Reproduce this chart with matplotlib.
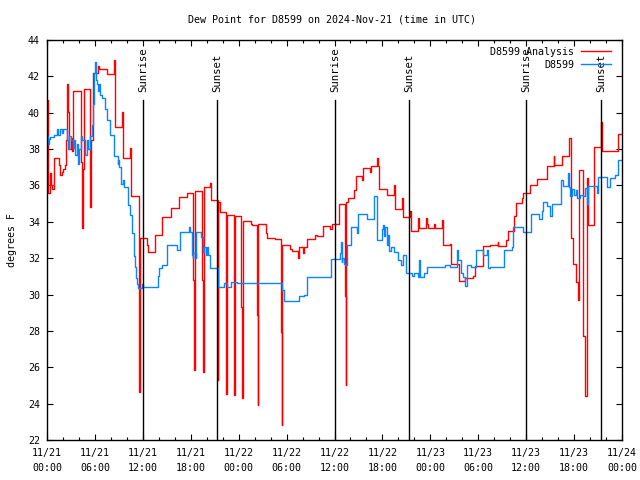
import matplotlib
matplotlib.use("Agg")
import matplotlib.pyplot as plt
from matplotlib.ticker import MultipleLocator, FixedLocator

# hours since 2024-11-21 00:00 UTC
analysis_hours = [0.00, 0.08, 0.13, 0.38, 0.50, 0.63, 0.91, 1.50, 1.63, 1.84, 2.04, 2.25, 2.38, 2.50, 2.67,
                  2.75, 3.01, 3.13, 3.29, 4.22, 4.42, 4.51, 4.67, 5.38, 5.47, 5.72, 6.42, 6.51, 7.51, 8.39,
                  8.51, 9.35, 9.45, 9.52, 10.39, 10.52, 11.47, 11.60, 12.48, 12.61, 13.48, 14.46, 15.48,
                  16.52, 17.49, 18.34, 18.41, 18.47, 19.47, 19.52, 19.60, 20.47, 20.54, 21.35, 21.45, 21.66,
                  22.38, 22.41, 22.49, 23.38, 23.45, 23.52, 24.33, 24.46, 24.52, 25.54, 25.67, 26.33, 26.38,
                  26.46, 27.42, 27.59, 28.55, 29.34, 29.39, 29.46, 30.39, 30.72, 31.47, 31.56, 32.06, 32.18,
                  32.59, 33.56, 33.77, 34.60, 35.44, 35.65, 36.60, 37.35, 37.40, 37.48, 37.65, 38.48, 38.66,
                  39.48, 39.61, 40.45, 40.57, 41.36, 41.48, 41.57, 42.54, 43.49, 43.58, 44.45, 44.61, 45.45,
                  45.58, 46.42, 46.52, 47.42, 47.52, 47.71, 48.46, 48.59, 49.42, 49.53, 50.46, 50.55, 51.59,
                  52.34, 53.38, 53.59, 54.56, 55.47, 56.44, 56.51, 57.48, 57.69, 58.48, 58.69, 59.44, 59.64,
                  60.54, 61.32, 62.55, 63.46, 63.53, 64.53, 65.36, 65.58, 65.90, 66.20, 66.45, 66.62, 67.16,
                  67.37, 67.58, 67.78, 68.53, 69.41, 69.47, 71.54, 72.00]
analysis_vals = [40.7, 37.0, 35.6, 36.7, 36.0, 35.8, 37.5, 37.1, 36.55, 36.75, 36.9, 37.1, 38.5, 41.6, 40.05,
                 38.0, 38.6, 37.9, 41.2, 37.3, 33.65, 36.9, 41.3, 34.8, 38.5, 42.2, 42.55, 42.4, 42.15, 42.9,
                 39.2, 39.5, 40.05, 37.5, 38.05, 35.4, 24.65, 33.1, 32.7, 32.35, 33.3, 34.25, 34.75,
                 35.35, 35.6, 30.8, 25.85, 35.7, 30.8, 25.75, 35.9, 36.15, 35.2, 25.3, 35.1, 34.55,
                 30.0, 24.55, 34.4, 29.4, 24.45, 34.3, 29.3, 24.3, 34.05, 33.9, 33.8, 28.9, 23.9,
                 33.9, 33.4, 33.1, 33.05, 27.95, 22.8, 32.75, 32.5, 32.4, 32.0, 32.6, 32.3, 32.6,
                 33.05, 33.3, 33.2, 33.75, 33.6, 33.9, 35.0, 29.9, 25.0, 35.1, 35.3, 35.75, 36.5,
                 36.3, 36.95, 36.75, 37.05, 37.5, 37.05, 35.8, 35.5, 36.0, 34.7, 35.3, 34.25, 34.6,
                 33.5, 34.2, 33.65, 34.2, 33.9, 33.65, 33.9, 33.65, 34.1, 32.7, 32.8, 31.7, 30.75,
                 30.9, 31.0, 31.55, 32.65, 32.7, 32.9, 32.65, 33.0, 33.5, 34.3, 35.05, 35.3, 35.6,
                 36.0, 36.35, 37.05, 37.6, 37.1, 37.6, 38.6, 33.1, 31.7, 30.7, 29.7, 36.85, 27.7,
                 24.4, 36.4, 33.85, 38.1, 39.5, 37.9, 38.85, 38.85]

obs_hours = [0.00, 0.13, 0.25, 0.38, 0.91, 1.21, 1.42, 1.63, 1.84, 1.97, 2.47, 2.67, 2.75, 3.01, 3.29, 3.33,
             3.51, 3.72, 3.92, 3.96, 4.26, 4.42, 4.76, 4.97, 5.17, 5.38, 5.63, 5.72, 5.89, 6.01, 6.14, 6.26,
             6.39, 6.51, 6.64, 6.89, 7.26, 7.51, 7.89, 8.39, 8.85, 8.95, 9.02, 9.27, 9.52, 9.68, 10.14,
             10.39, 10.68, 10.89, 11.02, 11.11, 11.21, 11.36, 11.86, 11.96, 13.86, 13.99, 14.36, 14.99,
             16.24, 16.65, 17.84, 17.91, 18.12, 18.22, 18.34, 18.62, 18.66, 19.28, 19.50, 19.72, 19.85,
             20.04, 20.16, 20.45, 21.38, 22.20, 22.50, 23.00, 23.75, 29.39, 29.71, 31.56, 32.22, 32.52,
             32.59, 35.52, 36.69, 36.78, 36.88, 37.00, 37.13, 37.32, 37.53, 38.07, 38.82, 38.98, 40.10,
             40.94, 41.36, 41.91, 42.08, 42.20, 42.32, 42.54, 42.70, 42.83, 43.08, 43.45, 43.99, 44.33,
             44.61, 44.91, 45.66, 45.96, 46.49, 46.62, 46.68, 47.21, 47.62, 49.84, 50.46, 51.30, 51.50,
             51.80, 52.13, 52.34, 52.63, 53.05, 53.68, 54.56, 55.06, 55.26, 55.47, 57.23, 58.19, 58.39,
             59.64, 60.57, 61.65, 62.02, 62.15, 62.57, 62.99, 63.28, 64.33, 64.66, 65.28, 65.36, 65.49,
             65.74, 65.99, 66.24, 66.37, 66.74, 67.12, 67.37, 67.62, 67.78, 68.87, 69.04, 70.08, 70.50,
             71.13, 71.54, 72.00]
obs_vals = [38.7, 38.3, 38.55, 38.65, 38.8, 39.1, 38.8, 39.1, 38.9, 39.1, 38.5, 38.0, 38.7, 38.5, 38.05, 38.5,
            37.65, 38.3, 37.2, 38.0, 38.7, 38.5, 37.65, 38.5, 38.0, 38.7, 39.3, 40.5, 42.2, 42.8, 41.8, 41.6,
            41.2, 41.6, 41.0, 40.8, 40.2, 39.6, 38.8, 37.6, 37.2, 37.4, 37.0, 36.1, 36.3, 35.9, 34.9,
            34.4, 33.4, 32.1, 31.5, 30.9, 30.6, 30.35, 30.6, 30.4, 31.0, 31.45, 31.65, 32.7,
            32.45, 33.45, 33.7, 33.45, 32.2, 32.0, 32.3, 32.0, 33.45, 33.15, 32.35, 32.6, 32.2,
            32.6, 32.2, 31.45, 30.4, 30.65, 30.4, 30.7, 30.65, 30.25, 29.65, 29.9, 30.0, 30.45,
            30.95, 31.95, 32.3, 32.9, 31.8, 32.0, 31.7, 31.6, 32.7, 33.7, 33.4, 34.45, 34.15,
            35.4, 33.0, 33.6, 33.8, 33.2, 33.7, 32.7, 33.3, 32.4, 32.6, 32.35, 31.9, 31.6,
            32.15, 31.2, 31.0, 31.2, 30.95, 31.9, 30.95, 31.2, 31.5, 31.65, 31.5, 32.45, 31.9,
            31.2, 30.95, 30.45, 31.6, 31.5, 32.45, 32.15, 32.45, 31.45, 31.5, 32.45, 32.6, 33.7,
            33.45, 34.45, 34.15, 34.6, 35.1, 34.85, 34.3, 35.0, 36.3, 35.95, 36.7, 35.9, 35.4,
            35.8, 35.5, 35.75, 35.3, 35.5, 35.4, 35.85, 35.0, 35.95, 35.6, 36.45, 35.9, 36.4,
            36.6, 37.4, 37.4]

sun_hours = [12.04, 21.32, 36.06, 45.35, 60.02, 69.40]
sun_labels = ["Sunrise", "Sunset", "Sunrise", "Sunset", "Sunrise", "Sunset"]

xtick_hours = [0, 6, 12, 18, 24, 30, 36, 42, 48, 54, 60, 66, 72]
xtick_labels = ["11/21\n00:00", "11/21\n06:00", "11/21\n12:00", "11/21\n18:00",
                "11/22\n00:00", "11/22\n06:00", "11/22\n12:00", "11/22\n18:00",
                "11/23\n00:00", "11/23\n06:00", "11/23\n12:00", "11/23\n18:00",
                "11/24\n00:00"]

MONO = "DejaVu Sans Mono"
FS = 7.2

fig = plt.figure(figsize=(6.4, 4.8), dpi=100)
ax = fig.add_axes([47/640, 40/480, 575/640, 400/480])

ax.plot(analysis_hours, analysis_vals, drawstyle="steps-post", color="#ff0000", lw=1.0,
        label="D8599 Analysis")
ax.plot(obs_hours, obs_vals, drawstyle="steps-post", color="#0a84ff", lw=1.0, label="D8599")

for h, lab in zip(sun_hours, sun_labels):
    ax.plot([h, h], [0, 0.85], color="black", lw=1.0, transform=ax.get_xaxis_transform())
    ax.text(h, 0.87, lab, rotation=90, ha="center", va="bottom", family=MONO, fontsize=FS + 0.5,
            transform=ax.get_xaxis_transform())

ax.set_xlim(0, 72)
ax.set_ylim(22, 44)
ax.xaxis.set_major_locator(FixedLocator(xtick_hours))
ax.set_xticklabels(xtick_labels, family=MONO, fontsize=FS, linespacing=1.6)
ax.xaxis.set_minor_locator(MultipleLocator(2))
ax.yaxis.set_major_locator(MultipleLocator(2))
for lab in ax.get_yticklabels():
    lab.set_family(MONO)
    lab.set_fontsize(FS)
ax.tick_params(which="both", direction="in", top=True, right=True, width=0.8)
ax.tick_params(axis="x", which="major", length=4.5, pad=6)
ax.tick_params(axis="y", which="major", length=4.5, pad=5)
ax.tick_params(which="minor", length=2.5)
for s in ax.spines.values():
    s.set_linewidth(1.0)

ax.set_ylabel("degrees F", family=MONO, fontsize=FS, labelpad=8)
fig.text(332/640, 1 - 20/480, "Dew Point for D8599 on 2024-Nov-21 (time in UTC)", ha="center",
         va="center", family=MONO, fontsize=FS)

leg = ax.legend(loc="upper right", frameon=False, markerfirst=False, prop={"family": MONO, "size": FS},
                handlelength=3.0, handletextpad=0.7, labelspacing=0.3, borderaxespad=0.3,
                bbox_to_anchor=(0.993, 1.0))
for t in leg.get_texts():
    t.set_ha("right")

fig.savefig("out.png", dpi=100)
